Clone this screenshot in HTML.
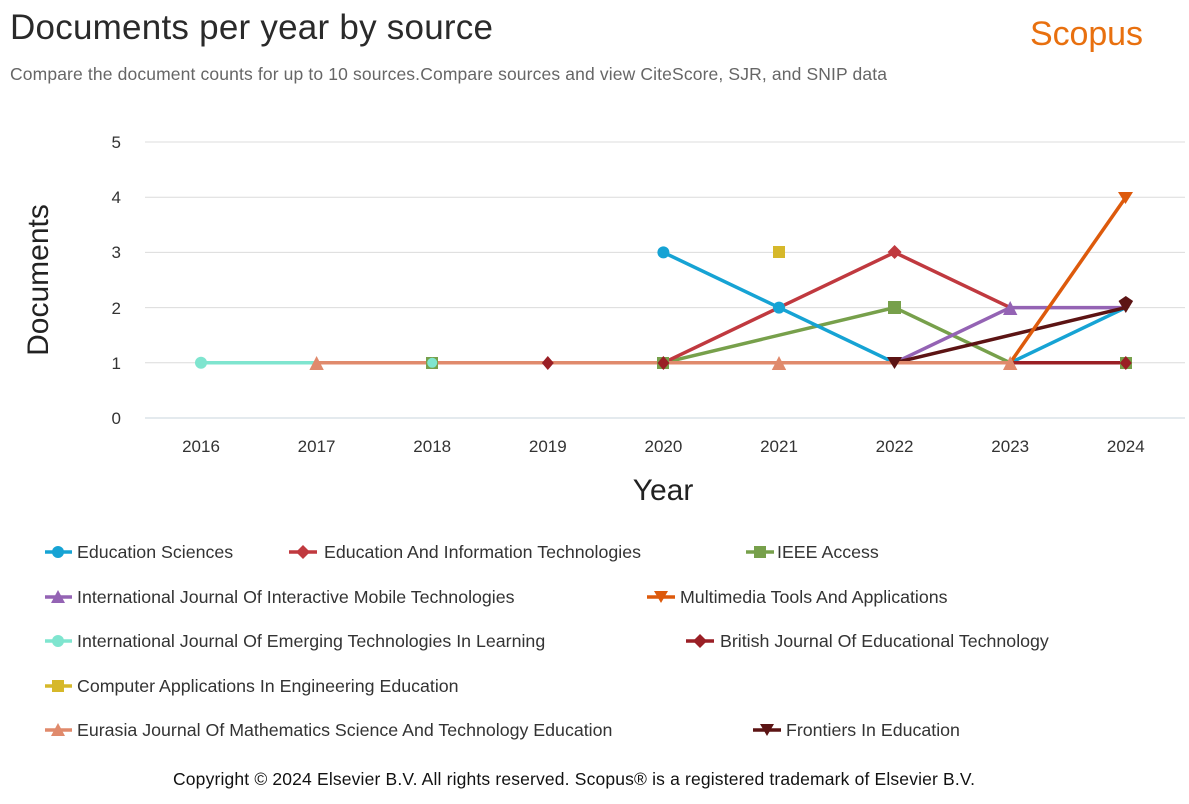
<!DOCTYPE html>
<html><head><meta charset="utf-8"><style>
body{margin:0;background:#fff;width:1189px;height:799px;overflow:hidden;font-family:"Liberation Sans",Arial,sans-serif}
</style></head><body>
<svg width="1189" height="799" xmlns="http://www.w3.org/2000/svg" font-family="Liberation Sans, Arial, sans-serif">
<text x="10" y="39" font-size="35" fill="#2a2a2a" textLength="483">Documents per year by source</text>
<text x="1030" y="45" font-size="34" fill="#e8700f" textLength="113">Scopus</text>
<text x="10" y="80" font-size="17.5" fill="#666" textLength="877">Compare the document counts for up to 10 sources.Compare sources and view CiteScore, SJR, and SNIP data</text>
<g stroke="#dcdcdc" stroke-width="1">
<line x1="145" x2="1185" y1="142" y2="142"/><line x1="145" x2="1185" y1="197.2" y2="197.2"/>
<line x1="145" x2="1185" y1="252.4" y2="252.4"/><line x1="145" x2="1185" y1="307.6" y2="307.6"/>
<line x1="145" x2="1185" y1="362.8" y2="362.8"/>
</g>
<line x1="145" x2="1185" y1="418" y2="418" stroke="#c8d4dc" stroke-width="1"/>
<g font-size="17" fill="#333" text-anchor="end">
<text x="121" y="148">5</text><text x="121" y="203">4</text><text x="121" y="258">3</text><text x="121" y="314">2</text><text x="121" y="369">1</text><text x="121" y="424">0</text>
</g>
<g font-size="17" fill="#333" text-anchor="middle">
<text x="201" y="452">2016</text><text x="316.6" y="452">2017</text><text x="432.2" y="452">2018</text><text x="547.8" y="452">2019</text><text x="663.4" y="452">2020</text><text x="779" y="452">2021</text><text x="894.6" y="452">2022</text><text x="1010.2" y="452">2023</text><text x="1125.8" y="452">2024</text>
</g>
<text x="663" y="500" font-size="30" fill="#222" text-anchor="middle">Year</text>
<text transform="translate(48,280) rotate(-90)" font-size="30" fill="#222" text-anchor="middle">Documents</text>
<g fill="none" stroke-width="3.5" stroke-linejoin="round">
<polyline stroke="#77a04b" points="432.2,362.8 663.4,362.8 894.6,307.6 1010.2,362.8 1125.8,362.8"/>
<polyline stroke="#c0393f" points="547.8,362.8 663.4,362.8 779,307.6 894.6,252.4 1010.2,307.6"/>
<polyline stroke="#16a3d4" points="663.4,252.4 779,307.6 894.6,362.8 1010.2,362.8 1125.8,307.6"/>
<polyline stroke="#9463b4" points="894.6,362.8 1010.2,307.6 1125.8,307.6"/>
<polyline stroke="#7fe5cf" points="201,362.8 316.6,362.8"/>
<polyline stroke="#9a1f25" points="1010.2,362.8 1125.8,362.8"/>
<polyline stroke="#5c1414" points="894.6,362.8 1125.8,307.6"/>
<polyline stroke="#e08a6c" points="316.6,362.8 1010.2,362.8"/>
<polyline stroke="#dd5a0c" points="1010.2,362.8 1125.8,197.2"/>
</g>
<g>
<circle cx="201" cy="362.8" r="6" fill="#7fe5cf"/>
<rect x="426" y="357" width="12" height="12" fill="#77a04b"/><circle cx="432.2" cy="362.8" r="5" fill="#7fe5cf"/>
<path d="M547.8,356 l6,7 -6,7 -6,-7z" fill="#9a1f25"/>
<rect x="657" y="357" width="12" height="12" fill="#77a04b"/><path d="M663.4,356 l6,7 -6,7 -6,-7z" fill="#9a1f25"/>
<circle cx="663.4" cy="252.4" r="6" fill="#16a3d4"/>
<rect x="773" y="246" width="12" height="12" fill="#d6b82a"/>
<circle cx="779" cy="307.6" r="6" fill="#16a3d4"/>
<path d="M894.6,245 l7,7 -7,7 -7,-7z" fill="#c0393f"/>
<rect x="888" y="301" width="13" height="13" fill="#77a04b"/>
<path d="M887,357 h15 l-7.5,12z" fill="#5c1414"/>
<path d="M1003,315 l7.2,-14 7.2,14z" fill="#9463b4"/>
<path d="M1003,370 l7.2,-14 7.2,14z" fill="#e08a6c"/>
<path d="M309.4,370 l7.2,-14 7.2,14z" fill="#e08a6c"/>
<path d="M771.8,370 l7.2,-14 7.2,14z" fill="#e08a6c"/>
<rect x="1120" y="357" width="12" height="12" fill="#77a04b"/><path d="M1125.8,356 l6,7 -6,7 -6,-7z" fill="#9a1f25"/>
<path d="M1118.5,301 l7.3,-5 7.3,5 -7.3,12z" fill="#5c1414"/>
<path d="M1118,192 h15 l-7.5,12z" fill="#dd5a0c"/>
</g>
<g font-size="17.8" fill="#333">
<line x1="45" x2="72" y1="552" y2="552" stroke="#16a3d4" stroke-width="3.5"/><circle cx="58" cy="552" r="6" fill="#16a3d4"/><text x="77" y="558">Education Sciences</text>
<line x1="289" x2="317" y1="552" y2="552" stroke="#c0393f" stroke-width="3.5"/><path d="M303,545 l7,7 -7,7 -7,-7z" fill="#c0393f"/><text x="324" y="558">Education And Information Technologies</text>
<line x1="746" x2="774" y1="552" y2="552" stroke="#77a04b" stroke-width="3.5"/><rect x="754" y="546" width="12" height="12" fill="#77a04b"/><text x="777" y="558">IEEE Access</text>
<line x1="45" x2="72" y1="597" y2="597" stroke="#9463b4" stroke-width="3.5"/><path d="M51,603 l7,-13 7,13z" fill="#9463b4"/><text x="77" y="603">International Journal Of Interactive Mobile Technologies</text>
<line x1="647" x2="675" y1="597" y2="597" stroke="#dd5a0c" stroke-width="3.5"/><path d="M654,591 h14 l-7,12z" fill="#dd5a0c"/><text x="680" y="603">Multimedia Tools And Applications</text>
<line x1="45" x2="72" y1="641" y2="641" stroke="#7fe5cf" stroke-width="3.5"/><circle cx="58" cy="641" r="6" fill="#7fe5cf"/><text x="77" y="647">International Journal Of Emerging Technologies In Learning</text>
<line x1="686" x2="714" y1="641" y2="641" stroke="#9a1f25" stroke-width="3.5"/><path d="M700,634 l7,7 -7,7 -7,-7z" fill="#9a1f25"/><text x="720" y="647">British Journal Of Educational Technology</text>
<line x1="45" x2="72" y1="686" y2="686" stroke="#d6b82a" stroke-width="3.5"/><rect x="52" y="680" width="12" height="12" fill="#d6b82a"/><text x="77" y="692">Computer Applications In Engineering Education</text>
<line x1="45" x2="72" y1="730" y2="730" stroke="#e08a6c" stroke-width="3.5"/><path d="M51,736 l7,-13 7,13z" fill="#e08a6c"/><text x="77" y="736">Eurasia Journal Of Mathematics Science And Technology Education</text>
<line x1="753" x2="781" y1="730" y2="730" stroke="#5c1414" stroke-width="3.5"/><path d="M760,724 h14 l-7,12z" fill="#5c1414"/><text x="786" y="736">Frontiers In Education</text>
</g>
<text x="173" y="785" font-size="17.5" fill="#111" textLength="802">Copyright © 2024 Elsevier B.V. All rights reserved. Scopus® is a registered trademark of Elsevier B.V.</text>
</svg>
</body></html>
